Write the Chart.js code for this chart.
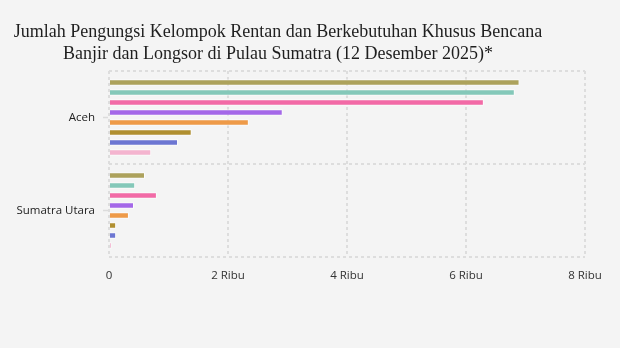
<!DOCTYPE html>
<html>
<head>
<meta charset="utf-8">
<script src="https://cdn.jsdelivr.net/npm/chart.js@4/dist/chart.umd.min.js"></script>
<style>
  html, body { margin: 0; padding: 0; background: #f4f4f4; }
  #wrap { position: relative; width: 620px; height: 348px; }
  #title {
    position: absolute; left: 0; top: 19.5px; width: 556px;
    text-align: center; white-space: nowrap;
    font-family: "Liberation Serif", "DejaVu Serif", serif;
    font-size: 18px; line-height: 22.5px; color: #1e1e1e;
    z-index: 2;
  }
  canvas { position: absolute; left: 0; top: 0; }
</style>
</head>
<body>
<div id="wrap">
  <canvas id="c" width="620" height="348"></canvas>
  <div id="title">Jumlah Pengungsi Kelompok Rentan dan Berkebutuhan Khusus Bencana<br>Banjir dan Longsor di Pulau Sumatra (12 Desember 2025)*</div>
</div>
<script>
const provinces = ['Aceh', 'Sumatra Utara'];

const groupNames = ['Balita', 'Lansia', 'Anak-anak', 'Ibu Hamil', 'Ibu Menyusui', 'Disabilitas', 'Bayi', 'Orang Sakit'];
const groupColors = ['#ada25c', '#84c8b9', '#f26aa6', '#a468e8', '#ee9a48', '#b08f30', '#6c76d2', '#f4b4cf'];

const balita      = [6900, 605];
const lansia      = [6820, 440];
const anakAnak    = [6300, 805];
const ibuHamil    = [2920, 420];
const ibuMenyusui = [2350, 335];
const disabilitas = [1390, 120];
const bayi        = [1160, 120];
const orangSakit  = [710, 45];

const xTickValues = [0, 2000, 4000, 6000, 8000];
const xTickLabels = ['0', '2 Ribu', '4 Ribu', '6 Ribu', '8 Ribu'];

const seriesValues = [balita, lansia, anakAnak, ibuHamil, ibuMenyusui, disabilitas, bayi, orangSakit];

const datasets = seriesValues.map((vals, i) => ({
  label: groupNames[i],
  data: vals,
  backgroundColor: groupColors[i],
  borderColor: 'rgba(255,255,255,0.7)',
  borderWidth: 1,
  categoryPercentage: 0.86,
  barPercentage: 0.66
}));

// short tick marks beside each province label
const labelTicks = {
  id: 'labelTicks',
  afterDraw(chart) {
    const y = chart.scales.y;
    const ctx = chart.ctx;
    ctx.save();
    ctx.strokeStyle = '#dcdcdc';
    ctx.lineWidth = 1.5;
    provinces.forEach((p, i) => {
      const py = y.getPixelForValue(i);
      ctx.beginPath();
      ctx.moveTo(y.right - 6, py);
      ctx.lineTo(y.right - 1, py);
      ctx.stroke();
    });
    ctx.restore();
  }
};

new Chart(document.getElementById('c'), {
  type: 'bar',
  data: { labels: provinces, datasets },
  plugins: [labelTicks],
  options: {
    indexAxis: 'y',
    responsive: false,
    animation: false,
    layout: { padding: { top: 71, right: 35, left: 0, bottom: 0 } },
    plugins: {
      legend: { display: false },
      title: { display: false },
      tooltip: { enabled: false }
    },
    scales: {
      x: {
        min: 0,
        max: 8000,
        afterBuildTicks(scale) {
          scale.ticks = xTickValues.map(v => ({ value: v }));
        },
        afterFit(scale) { scale.height = 91; },
        ticks: {
          padding: 12,
          color: '#333',
          font: { family: 'Open Sans', size: 11.5 },
          callback: (v, i) => xTickLabels[i]
        },
        grid: {
          color: '#dddddd',
          lineWidth: 2,
          drawTicks: false
        },
        border: { display: false, dash: [3, 3] }
      },
      y: {
        afterFit(scale) { scale.width = 109; },
        ticks: {
          padding: 14,
          color: '#222',
          font: { family: 'Open Sans', size: 11.5 }
        },
        grid: {
          offset: true,
          color: '#dddddd',
          lineWidth: 2,
          drawTicks: false
        },
        border: { display: false, dash: [3, 3] }
      }
    }
  }
});
</script>
</body>
</html>
